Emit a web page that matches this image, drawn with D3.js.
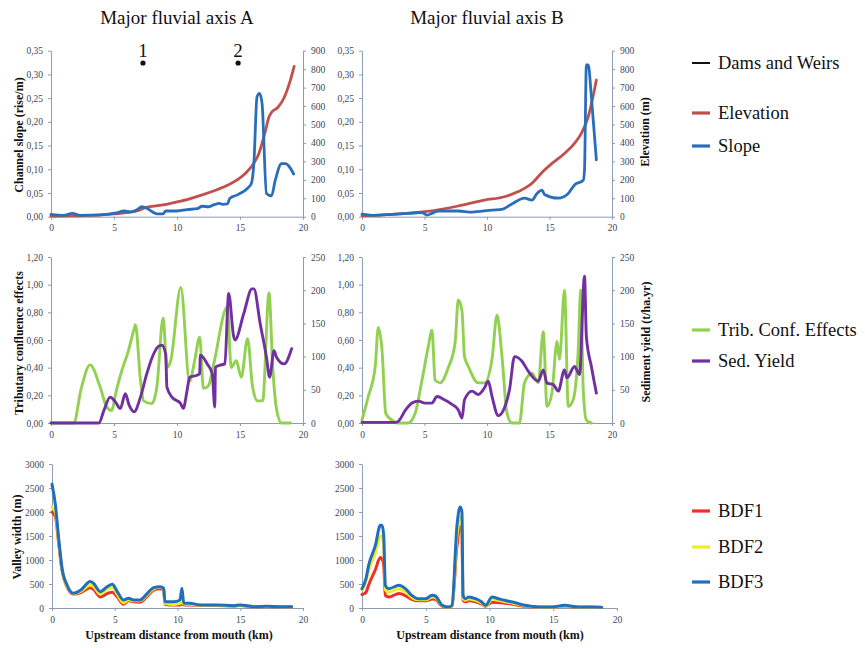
<!DOCTYPE html>
<html>
<head>
<meta charset="utf-8">
<script src="https://cdn.jsdelivr.net/npm/d3@7"></script>
<style>
  html, body { margin: 0; padding: 0; background: #fff; }
  svg { display: block; font-family: 'Liberation Serif', 'Times New Roman', serif; }
  svg text { font-family: 'Liberation Serif', 'Times New Roman', serif; }
</style>
</head>
<body>
<svg id="chart" width="865" height="648"></svg>
<script>
// ---- Axis A: elevation (m) and channel slope (rise/m) vs distance (km)
const elevationA = [[0,3],[1,4],[2,5],[3,7],[4,10],[5,15],[6,22],[7,35],[7.5,50],[8,56],[9,65],[10,80],[11,97],[12,118],[13,142],[14,170],[15,210],[15.5,240],[16,280],[16.5,343],[17,460],[17.3,540],[17.5,565],[18,592],[18.5,645],[19,740],[19.3,815]];
const slopeA = [[0,0.005],[1,0.003],[1.7,0.007],[2.3,0.003],[3.9,0.004],[5.2,0.008],[5.8,0.012],[6.3,0.01],[6.8,0.014],[7.2,0.021],[7.6,0.018],[8.0,0.011],[8.4,0.006],[8.9,0.006],[9.1,0.012],[10,0.012],[10.8,0.015],[11.6,0.017],[12,0.022],[12.5,0.021],[12.9,0.025],[13.4,0.028],[13.6,0.026],[14,0.027],[14.2,0.039],[14.8,0.046],[15.6,0.06],[15.9,0.07],[16.1,0.112],[16.35,0.253],[16.55,0.26],[16.75,0.239],[17.1,0.049],[17.5,0.044],[17.8,0.077],[18.3,0.112],[18.6,0.112],[19.26,0.09]];
const damsA = [7.3, 14.85];
const damLabels = ["1", "2"];

// ---- Axis B: elevation and slope
const elevationB = [[0,5],[2.4,13],[5.05,27],[7.7,58],[9.8,90],[11.4,108],[12.5,136],[13.6,181],[14.4,240],[15.2,289],[16.2,343],[17,398],[17.55,452],[18.1,542],[18.75,741]];
const slopeB = [[0,0.0056],[1.06,0.003],[2.4,0.005],[3.7,0.007],[4.8,0.0084],[5.2,0.0035],[5.6,0.007],[6.1,0.012],[7.7,0.012],[8.8,0.0098],[10.4,0.014],[11.2,0.0155],[12,0.027],[13,0.039],[13.6,0.035],[14,0.049],[14.4,0.056],[14.6,0.047],[15.7,0.039],[16.5,0.049],[17,0.067],[17.7,0.077],[17.8,0.098],[17.95,0.32],[18.1,0.32],[18.35,0.253],[18.75,0.12]];

// ---- Tributary confluence effects (0-1) and sediment yield (t/ha.yr)
const tribA = [[0,0],[1.8,0],[2.4,0.25],[3.1,0.42],[3.9,0.26],[4.4,0.12],[4.8,0.09],[5.2,0.24],[5.8,0.43],[6.0,0.48],[6.6,0.68],[6.7,0.71],[7.1,0.31],[7.35,0.16],[8,0.14],[8.4,0.26],[8.9,0.76],[9.2,0.4],[9.5,0.45],[10.3,0.98],[11.0,0.3],[11.4,0.45],[11.8,0.62],[12.1,0.25],[12.5,0.27],[12.9,0.42],[14,0.84],[14.3,0.4],[14.7,0.45],[15.1,0.33],[15.6,0.61],[16.0,0.26],[16.4,0.16],[16.8,0.16],[17.3,0.94],[17.6,0.4],[17.9,0.1],[18.3,0],[19,0]];
const sedA = [[0,0],[3.8,0],[4.2,19],[4.7,39],[5.1,32],[5.5,22],[5.9,44],[6.2,27],[6.6,17],[7.1,39],[7.6,74],[8.1,102],[8.5,115],[8.8,117],[9.1,104],[9.2,54],[9.6,39],[10.3,29],[10.5,22],[10.8,49],[11.0,69],[11.6,72],[11.8,74],[11.85,102],[12.4,89],[12.8,74],[13.0,24],[13.05,84],[13.4,87],[13.8,89],[14.1,195],[14.5,130],[14.6,125],[15.3,165],[15.95,202],[16.1,202],[16.6,150],[17.1,99],[17.35,69],[17.7,109],[17.9,99],[18.5,89],[19.1,112]];
const tribB = [[0,0.02],[0.5,0.19],[1.06,0.41],[1.3,0.69],[1.6,0.53],[1.9,0.07],[2.4,0.02],[2.8,0],[3.7,0],[4.25,0.07],[4.8,0.31],[5.3,0.55],[5.6,0.67],[5.85,0.31],[6.25,0.29],[6.9,0.4],[7.45,0.58],[7.7,0.89],[8,0.81],[8.2,0.48],[8.5,0.41],[9.3,0.29],[9.8,0.29],[10.4,0.46],[10.8,0.78],[11.2,0.48],[11.6,0.07],[12,0],[12.6,0],[13,0.29],[13.6,0.36],[14.1,0.29],[14.5,0.66],[14.8,0.12],[15.2,0.22],[15.6,0.59],[15.8,0.46],[16.2,0.96],[16.5,0.12],[16.9,0.17],[17.3,0.53],[17.5,0.96],[17.7,0.24],[17.95,0.02],[18.35,0]];
const sedB = [[0,1],[2.7,1],[2.9,2.5],[3.5,20],[4,30],[4.5,33],[5.05,30],[5.6,30],[6,40],[6.6,35],[7.2,28],[7.7,20],[8,7.5],[8.2,35],[8.8,48],[9.3,43],[9.8,53],[10.1,63],[10.4,40],[10.9,11],[11.4,23],[11.8,50],[12.2,100],[12.8,93],[13.3,78],[14.1,63],[14.5,80],[14.8,60],[15.3,58],[15.7,48],[16.2,80],[16.4,68],[17,85],[17.4,73],[17.8,221],[17.95,130],[18.35,85],[18.75,45]];

// ---- Valley width (m) for three bankfull discharge scenarios
const distWidthA = [0,0.27,0.53,0.8,1.2,1.7,2.3,3.05,3.3,3.85,4.4,4.8,5.2,5.7,6.1,6.5,7.0,7.6,8.1,8.6,8.9,9.0,9.7,10.2,10.35,10.5,11.0,11.8,13.1,14.5,15.0,16.1,17.1,18.2,19.1];
const bdf1A = [2000,1900,1350,780,440,290,320,420,390,230,300,330,230,80,150,130,120,250,370,400,380,80,60,60,80,60,60,50,50,40,50,25,30,25,25];
const bdf2A = [2100,2000,1400,800,460,300,350,480,450,290,390,430,285,110,170,150,150,280,400,430,400,100,75,95,120,80,80,55,55,45,55,27,32,27,27];
const bdf3A = [2580,2150,1455,828,480,306,376,550,515,341,445,494,341,167,202,167,167,306,425,445,410,132,132,167,410,97,97,63,63,49,63,28,35,28,28];
const distWidthB = [0,0.3,0.52,1.05,1.44,1.57,1.7,1.83,2.1,2.9,3.4,3.9,4.4,5.0,5.5,5.75,6.3,6.8,7.06,7.45,7.7,7.84,7.92,8.1,8.37,8.9,9.4,9.7,10.2,10.7,11.2,11.8,12.8,13.9,14.9,15.9,17.0,18.0,18.8];
const bdf1B = [280,320,480,800,1050,1020,900,260,230,300,260,180,150,150,190,180,35,12,35,1300,1700,1600,160,130,150,130,80,35,120,110,100,80,35,15,15,40,15,15,10];
const bdf2B = [380,550,780,1150,1500,1480,1300,380,330,400,340,220,170,170,230,220,45,15,45,1500,1900,1800,200,160,190,160,100,45,180,160,130,100,45,18,18,45,18,18,12];
const bdf3B = [403,600,889,1306,1722,1722,1514,472,403,472,403,264,194,194,264,250,56,21,56,1722,2104,2000,264,194,229,194,125,56,229,194,160,125,56,21,21,56,21,21,14];

// ---- Tick values
const distanceTicks = [0, 5, 10, 15, 20];
const slopeTicks = [0, 0.05, 0.10, 0.15, 0.20, 0.25, 0.30, 0.35];
const elevationTicks = [0, 100, 200, 300, 400, 500, 600, 700, 800, 900];
const tribTicks = [0, 0.2, 0.4, 0.6, 0.8, 1.0, 1.2];
const sedTicks = [0, 50, 100, 150, 200, 250];
const widthTicks = [0, 500, 1000, 1500, 2000, 2500, 3000];

const COLORS = {
  elevation: "#c0504d", slope: "#2a6ebb", trib: "#92d050", sed: "#7030a0",
  bdf1: "#ee3124", bdf2: "#eeee22", bdf3: "#1f6fbd", dams: "#111"
};
const AXIS_COLOR = "#8d9cb4";
const TICK_TEXT = "#3d4658";
const SERIF = "'Liberation Serif', 'Times New Roman', serif";

const svg = d3.select("#chart");
const commaFmt = d3.format(".2f");
const fmt2 = v => commaFmt(v).replace(".", ",");
const fmtInt = d3.format("d");

function styleAxis(g) {
  g.attr("font-family", SERIF).attr("font-size", 9.5);
  g.select(".domain").attr("stroke", AXIS_COLOR).attr("stroke-width", 1);
  g.selectAll(".tick line").attr("stroke", AXIS_COLOR);
  g.selectAll(".tick text").attr("fill", TICK_TEXT);
}

function yTitle(text, x, y) {
  svg.append("text")
    .attr("transform", `translate(${x},${y}) rotate(-90)`)
    .attr("text-anchor", "middle")
    .style("font-weight", "bold").style("font-size", "12px")
    .attr("fill", "#111").text(text);
}

// Build one panel: x axis + left axis (+ optional right axis)
function panel(p) {
  const x = d3.scaleLinear().domain([0, 20]).range([p.x0, p.x1]);
  const yL = d3.scaleLinear().domain(p.leftDomain).range([p.yBottom, p.yTop]);
  const yR = p.rightDomain ? d3.scaleLinear().domain(p.rightDomain).range([p.yBottom, p.yTop]) : null;

  svg.append("g").attr("transform", `translate(0,${p.yBottom})`)
    .call(d3.axisBottom(x).tickValues(distanceTicks).tickFormat(fmtInt).tickSizeInner(3).tickSizeOuter(0).tickPadding(5))
    .call(styleAxis);
  svg.append("g").attr("transform", `translate(${p.x0},0)`)
    .call(d3.axisLeft(yL).tickValues(p.leftTicks).tickFormat(p.leftFormat).tickSizeInner(3).tickSizeOuter(0).tickPadding(5))
    .call(styleAxis);
  if (yR) {
    svg.append("g").attr("transform", `translate(${p.x1},0)`)
      .call(d3.axisRight(yR).tickValues(p.rightTicks).tickFormat(fmtInt).tickSizeInner(3).tickSizeOuter(0).tickPadding(5))
      .call(styleAxis);
  }
  return { x, yL, yR };
}

function drawLine(data, x, y, color, width) {
  const line = d3.line().x(d => x(d[0])).y(d => y(d[1])).curve(d3.curveMonotoneX);
  svg.append("path").datum(data)
    .attr("d", line).attr("fill", "none")
    .attr("stroke", color).attr("stroke-width", width)
    .attr("stroke-linejoin", "round").attr("stroke-linecap", "round");
}

function zipWidth(dist, vals) { return dist.map((d, i) => [d, vals[i]]); }

// ---- Column titles
svg.append("text").attr("x", 177).attr("y", 24).attr("text-anchor", "middle")
  .style("font-size", "19px").attr("fill", "#111").text("Major fluvial axis A");
svg.append("text").attr("x", 487).attr("y", 24).attr("text-anchor", "middle")
  .style("font-size", "19px").attr("fill", "#111").text("Major fluvial axis B");

// ---- Row 1: slope and elevation
const rowTop = { yTop: 50.7, yBottom: 216.7, leftDomain: [0, 0.35], leftTicks: slopeTicks, leftFormat: fmt2, rightDomain: [0, 900], rightTicks: elevationTicks };
const pA1 = panel({ ...rowTop, x0: 51, x1: 303 });
drawLine(elevationA, pA1.x, pA1.yR, COLORS.elevation, 2.8);
drawLine(slopeA, pA1.x, pA1.yL, COLORS.slope, 2.8);
damsA.forEach((d, i) => {
  svg.append("circle").attr("cx", pA1.x(d)).attr("cy", 63).attr("r", 2.6).attr("fill", COLORS.dams);
  svg.append("text").attr("x", pA1.x(d)).attr("y", 57).attr("text-anchor", "middle")
    .style("font-size", "19px").attr("fill", "#111").text(damLabels[i]);
});
const pB1 = panel({ ...rowTop, x0: 362, x1: 612 });
drawLine(elevationB, pB1.x, pB1.yR, COLORS.elevation, 2.8);
drawLine(slopeB, pB1.x, pB1.yL, COLORS.slope, 2.8);
yTitle("Channel slope (rise/m)", 23, 135);
yTitle("Elevation (m)", 649, 132);

// ---- Row 2: tributary confluence effects and sediment yield
const rowMid = { yTop: 257, yBottom: 423, leftDomain: [0, 1.2], leftTicks: tribTicks, leftFormat: fmt2, rightDomain: [0, 250], rightTicks: sedTicks };
const pA2 = panel({ ...rowMid, x0: 51, x1: 303 });
drawLine(tribA, pA2.x, pA2.yL, COLORS.trib, 2.9);
drawLine(sedA, pA2.x, pA2.yR, COLORS.sed, 2.9);
const pB2 = panel({ ...rowMid, x0: 362, x1: 612 });
drawLine(tribB, pB2.x, pB2.yL, COLORS.trib, 2.9);
drawLine(sedB, pB2.x, pB2.yR, COLORS.sed, 2.9);
yTitle("Tributary confluence effects", 23, 343);
yTitle("Sediment yield (t/ha.yr)", 650, 342);

// ---- Row 3: valley width
const rowBot = { yTop: 464, yBottom: 608, leftDomain: [0, 3000], leftTicks: widthTicks, leftFormat: fmtInt };
const pA3 = panel({ ...rowBot, x0: 52, x1: 303 });
drawLine(zipWidth(distWidthA, bdf1A), pA3.x, pA3.yL, COLORS.bdf1, 3);
drawLine(zipWidth(distWidthA, bdf2A), pA3.x, pA3.yL, COLORS.bdf2, 3);
drawLine(zipWidth(distWidthA, bdf3A), pA3.x, pA3.yL, COLORS.bdf3, 3);
const pB3 = panel({ ...rowBot, x0: 362, x1: 617 });
drawLine(zipWidth(distWidthB, bdf1B), pB3.x, pB3.yL, COLORS.bdf1, 3);
drawLine(zipWidth(distWidthB, bdf2B), pB3.x, pB3.yL, COLORS.bdf2, 3);
drawLine(zipWidth(distWidthB, bdf3B), pB3.x, pB3.yL, COLORS.bdf3, 3);
yTitle("Valley width (m)", 21, 537);
[179, 490].forEach(cx => {
  svg.append("text").attr("x", cx).attr("y", 639).attr("text-anchor", "middle")
    .style("font-weight", "bold").style("font-size", "12px").attr("fill", "#111")
    .text("Upstream distance from mouth (km)");
});

// ---- Legends
const legendItems = [
  { label: "Dams and Weirs", color: COLORS.dams, y: 63, w: 2 },
  { label: "Elevation", color: COLORS.elevation, y: 113, w: 3.2 },
  { label: "Slope", color: COLORS.slope, y: 146, w: 3.2 },
  { label: "Trib. Conf. Effects", color: COLORS.trib, y: 330, w: 3.2 },
  { label: "Sed. Yield", color: COLORS.sed, y: 361, w: 3.2 },
  { label: "BDF1", color: COLORS.bdf1, y: 511, w: 3.2 },
  { label: "BDF2", color: COLORS.bdf2, y: 547, w: 3.2 },
  { label: "BDF3", color: COLORS.bdf3, y: 582, w: 3.2 }
];
const lg = svg.append("g").selectAll("g").data(legendItems).join("g")
  .attr("transform", d => `translate(0,${d.y})`);
lg.append("line").attr("x1", 692).attr("x2", 710).attr("y1", 0).attr("y2", 0)
  .attr("stroke", d => d.color).attr("stroke-width", d => d.w);
lg.append("text").attr("x", 718).attr("y", 0).attr("dy", "0.35em")
  .style("font-size", "18.5px").attr("fill", "#111").text(d => d.label);
</script>
</body>
</html>
